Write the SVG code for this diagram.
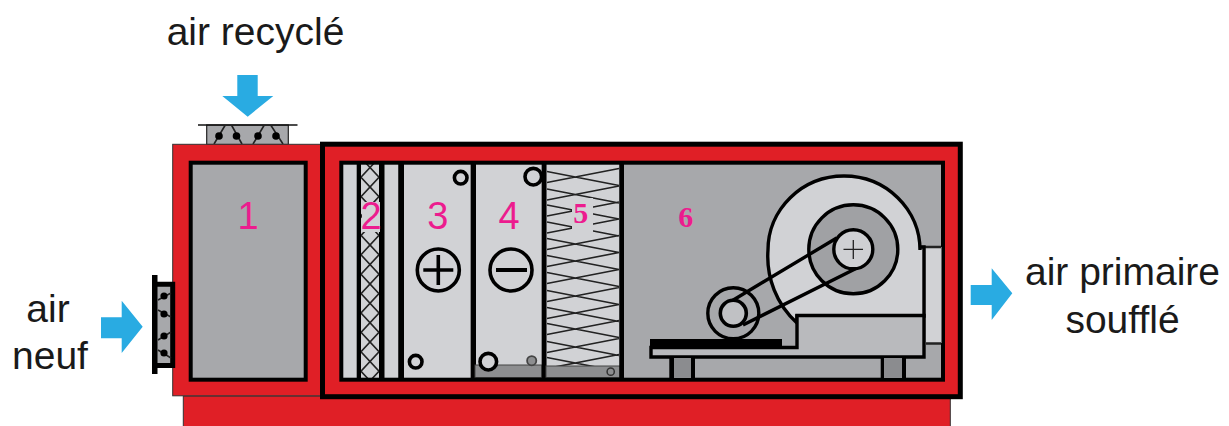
<svg xmlns="http://www.w3.org/2000/svg" width="1229" height="426" viewBox="0 0 1229 426">
<defs>
<style>
.red{fill:#e01f26;stroke:#333;stroke-width:1}
.g{fill:#a7a8ab}
.l{fill:#d1d2d5}
.k{fill:#000}
.box{fill:none;stroke:#000}
.c{fill:none;stroke:#000;stroke-width:3.6}
.thin{fill:none;stroke:#222;stroke-width:1.6}
.pan{fill:#8d8e90;stroke:#444;stroke-width:1}
.blue{fill:#29abe2}
.t{font-family:"Liberation Sans",Arial,sans-serif;font-size:39px;fill:#1a1a1a;text-anchor:middle}
.n{font-family:"Liberation Sans",Arial,sans-serif;font-size:38px;fill:#ec1c8e;text-anchor:middle}
.b{font-family:"Liberation Serif","Times New Roman",serif;font-weight:bold;font-size:30px;fill:#ec1c8e;text-anchor:middle}
.m{fill:none;stroke:#000;stroke-width:3.4}
.d{fill:#000}
</style>
<clipPath id="cf"><rect x="361" y="164" width="18" height="214"/></clipPath>
<clipPath id="cz"><rect x="546.7" y="164" width="72.6" height="202"/></clipPath>
</defs>
<rect width="1229" height="426" fill="#fff"/>
<g id="base"><rect class="red" x="183.3" y="396" width="767" height="32"/></g>
<g id="top-damper">
<rect x="206.7" y="125" width="81.6" height="19.5" class="g" stroke="#222" stroke-width="1.2"/>
<path d="M198 125H297.500" stroke="#111" stroke-width="1.500" fill="none"/>
<path class="thin" d="M214 144L225 125.500M231.700 125.500L242 144M253 144L264 125.500M271 125.500L283 144"/>
<circle class="d" cx="219" cy="136" r="3.800"/><circle class="d" cx="236.500" cy="136" r="3.800"/><circle class="d" cx="258" cy="136" r="3.800"/><circle class="d" cx="276" cy="136" r="3.800"/>
</g>
<g id="node-1">
<rect class="red" x="172.700" y="144.300" width="150" height="251.500"/>
<rect class="g" x="190.700" y="162.700" width="115" height="217"/>
<rect class="box" stroke-width="4" x="190.700" y="162.700" width="115" height="217"/>
<text class="n" x="248" y="229">1</text>
</g>
<g id="left-damper">
<rect x="157" y="284" width="15.500" height="82" class="g"/>
<path class="box" stroke-width="5" d="M157 284.300H172.700V365.500H157"/>
<rect class="k" x="152" y="275" width="5.500" height="99"/>
<path class="thin" d="M158 300L171 293M158 310L171 317M158 340L171 332M158 350L171 358"/>
<circle class="d" cx="164" cy="296" r="3.600"/><circle class="d" cx="164" cy="314" r="3.600"/><circle class="d" cx="164" cy="336" r="3.600"/><circle class="d" cx="164" cy="353" r="3.600"/>
</g>
<g id="casing">
<rect x="322.500" y="144.200" width="637.800" height="252.500" fill="#e01f26" stroke="#000" stroke-width="5"/>
<rect class="g" x="341.300" y="162.700" width="601.700" height="217"/>
</g>
<g id="node-2">
<rect class="l" x="343" y="164" width="55" height="214"/>
<path class="thin" d="M361 157.800L379 177.200L361 196.600L379 216L361 235.400L379 254.800L361 274.200L379 293.600L361 313L379 332.400L361 351.800L379 371.200L361 390.600" clip-path="url(#cf)"/>
<path class="thin" d="M379 157.800L361 177.200L379 196.600L361 216L379 235.400L361 254.800L379 274.200L361 293.600L379 313L361 332.400L379 351.800L361 371.200L379 390.600" clip-path="url(#cf)"/>
<rect class="k" x="356.700" y="164" width="4.300" height="214"/>
<rect class="k" x="379" y="164" width="5.500" height="214"/>
<rect class="k" x="398.300" y="164" width="5.700" height="214"/>
<rect class="l" x="362" y="202" width="18" height="30"/>
<text class="n" x="371" y="229">2</text>
</g>
<g id="node-3">
<rect class="l" x="404" y="164" width="66.700" height="214"/>
<circle class="c" cx="460.700" cy="177.700" r="6.300"/>
<circle class="c" cx="415.700" cy="361.700" r="6.300"/>
<circle class="c" cx="438.300" cy="270" r="21"/>
<path class="c" d="M423.300 270H453.300M438.300 255V285"/>
<text class="n" x="437.700" y="229">3</text>
</g>
<rect class="k" x="470.700" y="164" width="5.300" height="214"/>
<g id="node-4">
<rect class="l" x="476" y="164" width="65.700" height="214"/>
<rect class="pan" x="475" y="365" width="66.700" height="12.500"/>
<circle class="c" cx="533.300" cy="176.700" r="8.300"/>
<circle class="c" cx="488.300" cy="361.700" r="8.300" style="fill:#d1d2d5"/>
<circle cx="531.700" cy="360.700" r="4.600" fill="#8d8e90" stroke="#444" stroke-width="1.800"/>
<circle class="c" cx="511" cy="270" r="21"/>
<path d="M496 270H527" stroke="#000" stroke-width="4"/>
<text class="n" x="509" y="229">4</text>
</g>
<rect class="k" x="541.700" y="164" width="5" height="214"/>
<g id="node-5">
<rect class="l" x="546.700" y="164" width="72.600" height="214"/>
<path class="thin" clip-path="url(#cz)" d="M547 171.500L619 185.500M547 182.500L619 168.500M547 189L619 203M547 200L619 186M547 205L619 219M547 216L619 202M547 222L619 236M547 233L619 219M547 238.500L619 252.500M547 249.500L619 235.500M547 255.500L619 269.500M547 266.500L619 252.500M547 272.500L619 286.500M547 283.500L619 269.500M547 290.500L619 304.500M547 301.500L619 287.500M547 307.500L619 321.500M547 318.500L619 304.500M547 323.500L619 337.500M547 334.500L619 320.500M547 341.500L619 355.500M547 352.500L619 338.500M547 357.500L619 371.500M547 368.500L619 354.500"/>
<rect class="l" x="572" y="198" width="21" height="35"/>
<rect class="pan" x="546" y="366" width="74" height="11.500"/>
<circle cx="610.700" cy="371.700" r="3.600" fill="none" stroke="#333" stroke-width="1.500"/>
<text class="b" x="580.700" y="223.300">5</text>
</g>
<rect class="k" x="619.300" y="164" width="4.700" height="214"/>
<rect class="box" stroke-width="4" x="341.300" y="162.700" width="601.700" height="217"/>
<g id="node-6">
<text class="b" x="685.700" y="226.700">6</text>
<rect x="926" y="247" width="15.500" height="96" class="l"/>
<path d="M920 247H941M926 343.500H941" stroke="#222" stroke-width="2.500" fill="none"/>
<path class="l" stroke="#000" stroke-width="3.400" d="M920 250A76 74 0 0 0 768 250A90 90 0 0 0 797 323V316H924V247H920Z"/>
<path d="M797 315.500H924V357H651V347.500H797Z" fill="#b9babd" stroke="#000" stroke-width="3.400"/>
<rect class="k" x="650" y="339" width="132" height="8"/>
<rect class="k" x="669.300" y="358" width="25.700" height="20"/><rect x="674" y="358" width="17" height="20" fill="#8b8c8f"/>
<rect class="k" x="880.700" y="358" width="25.300" height="20"/><rect x="884" y="358" width="18" height="20" fill="#8b8c8f"/>
<circle cx="853.300" cy="249.300" r="44.500" fill="#a0a1a4" stroke="#000" stroke-width="3.400"/>
<circle cx="733.300" cy="313.300" r="25.500" fill="#a7a8ab" stroke="#000" stroke-width="3.400"/>
<path class="m" d="M730 302L836.700 238M743 325L857 268"/>
<circle cx="853.300" cy="249.300" r="19.500" fill="#cfd0d3" stroke="#000" stroke-width="3.400"/>
<path d="M843.500 249.300H863M853.300 240V259" stroke="#222" stroke-width="1.300"/>
<circle cx="733.300" cy="313.300" r="13" fill="#c0c1c4" stroke="#000" stroke-width="3.600"/>
</g>
<g id="connectors">
<path class="blue" d="M237.300 75H257.700V96H273.300L247.700 116.700L222.300 96H237.300Z"/>
<path class="blue" d="M101 317.300H121.700V300.700L142.700 326.700L121.700 353V338.300H101Z"/>
<path class="blue" d="M970.700 285H991.700V268.300L1012.300 293.300L991.700 320V305H970.700Z"/>
</g>
<g id="labels">
<text class="t" x="255.500" y="45">air recyclé</text>
<text class="t" x="48" y="322">air</text>
<text class="t" x="50" y="369">neuf</text>
<text class="t" x="1122.500" y="284.500">air primaire</text>
<text class="t" x="1122.500" y="332.700">soufflé</text>
</g>
</svg>
